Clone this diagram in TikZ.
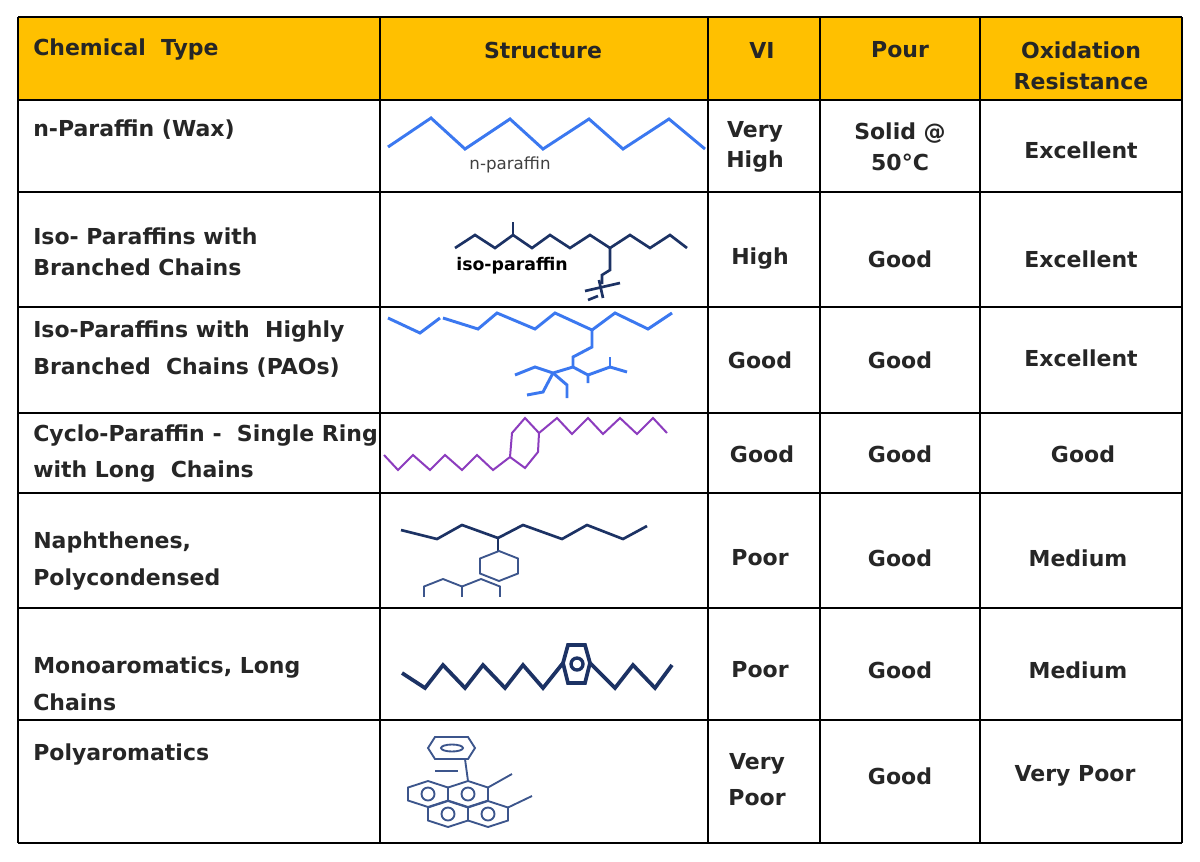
\documentclass[tikz,border=0pt]{standalone}
\usepackage{fontspec}
\setmainfont{DejaVu Sans}
\definecolor{hdr}{RGB}{255,192,0}
\definecolor{cblue}{RGB}{59,120,240}
\definecolor{cnavy}{RGB}{28,50,100}
\definecolor{cpurp}{RGB}{140,60,190}
\definecolor{cslate}{RGB}{60,85,140}
\begin{document}
\begin{tikzpicture}[x=0.75pt,y=-0.75pt,
  txt/.style={font=\fontsize{16.5}{23}\selectfont\bfseries, inner sep=0pt, text=black!85},
  lt/.style={txt, anchor=west, align=left},
  ct/.style={txt, align=center},
  grid/.style={line width=1.5pt, black},
  nblue/.style={line width=2.2pt, cblue, line join=miter},
  navy/.style={line width=2pt, cnavy},
  purp/.style={line width=1.5pt, cpurp},
  slate/.style={line width=1.4pt, cslate}]
\useasboundingbox (0,0) rectangle (1200,861);
\fill[white] (0,0) rectangle (1200,861);
\fill[hdr] (18,17) rectangle (1182,100);
% grid
\foreach \y in {17,100,192,307,413,493,608,720,843} \draw[grid] (18,\y) -- (1182,\y);
\foreach \x in {18,380,708,820,980,1182} \draw[grid] (\x,17) -- (\x,843);
% header
\node[lt] (h1) at (33,50) {Chemical\ \ Type};
\node[ct] (h2) at (543,50) {Structure};
\node[ct] (h3) at (762,50) {VI};
\node[ct] (h4) at (900,50) {Pour};
\node[ct] (h5) at (1081,66) {Oxidation\\Resistance};
% column 1
\node[lt] (a1) at (33,130) {n-Paraffin (Wax)};
\node[lt] (a2) at (33,252) {Iso- Paraffins with\\Branched Chains};
\node[lt] (a3) at (33,349) {Iso-Paraffins with\ \ Highly\\[5pt]Branched\ \ Chains (PAOs)};
\node[lt] (a4) at (33,454) {Cyclo-Paraffin -\ \ Single Ring\\[4pt]with Long\ \ Chains};
\node[lt] (a5) at (33,561) {Naphthenes,\\[5pt]Polycondensed};
\node[lt] (a6) at (33,684) {Monoaromatics, Long\\[5pt]Chains};
\node[lt] (a7) at (33,755) {Polyaromatics};
% VI
\node[ct] (b1) at (755,147) {Very\\High};
\node[ct] (b2) at (760,259) {High};
\node[ct] (b3) at (760,360) {Good};
\node[ct] (b4) at (762,454) {Good};
\node[ct] (b5) at (760,558) {Poor};
\node[ct] (b6) at (760,670) {Poor};
\node[ct] (b7) at (757,780) {Very\\[4pt]Poor};
% Pour
\node[ct] (c1) at (900,147) {Solid @\\50°C};
\foreach \n/\y in {2/259,3/360,4/454,5/558,6/670,7/776} \node[ct] (c\n) at (900,\y) {Good};
% Oxidation
\node[ct] (d1) at (1081,150) {Excellent};
\node[ct] (d2) at (1081,259) {Excellent};
\node[ct] (d3) at (1081,358) {Excellent};
\node[ct] (d4) at (1083,454) {Good};
\node[ct] (d5) at (1078,558) {Medium};
\node[ct] (d6) at (1078,670) {Medium};
\node[ct] (d7) at (1075,776) {Very Poor};
% n-paraffin
\draw[nblue] (388,147)--(431,118)--(465,149)--(510,119)--(543,149)--(589,119)--(623,149)--(669,119)--(705,149);
\node[font=\fontsize{12.5}{14}\selectfont, text=black!75] (np) at (510,165) {n-paraffin};
% iso-paraffin
\draw[navy] (455,248)--(475,235)--(495,248)--(513,235)--(532,248)--(550,235)--(570,248)--(590,235)--(610,248)--(630,235)--(650,248)--(670,235)--(687,248);
\draw[navy] (513,235)--(513,222);
\draw[navy] (610,248)--(610,270)--(602,275)--(602,284);
\draw[navy] (585,291)--(620,283); \draw[navy] (599,280)--(603,298); \draw[navy] (598,296)--(588,300);
\node[font=\fontsize{13}{14}\selectfont\bfseries] (ip) at (512,266) {iso-paraffin};
% PAO
\draw[nblue] (388,318)--(420,333)--(440,318);
\draw[nblue] (443,318)--(478,329)--(497,313)--(535,329)--(555,313)--(592,330)--(615,313)--(648,329)--(672,313);
\draw[nblue] (592,330)--(592,347)--(573,357)--(573,367);
\draw[nblue] (515,375)--(535,367)--(553,373)--(573,367)--(588,375)--(588,383);
\draw[nblue] (588,375)--(610,367)--(627,372); \draw[nblue] (610,367)--(610,357);
\draw[nblue] (553,373)--(543,392)--(527,395); \draw[nblue] (553,373)--(567,385)--(567,398);
% cyclo
\draw[purp] (384,455)--(398,470)--(413,455)--(430,470)--(445,455)--(462,470)--(477,455)--(493,470)--(510,457);
\draw[purp] (510,457)--(512,433)--(525,418)--(539,433)--(538,452)--(525,468)--cycle;
\draw[purp] (539,433)--(557,418)--(572,434)--(588,418)--(603,434)--(620,418)--(637,434)--(653,418)--(667,433);
% naphthenes
\draw[navy] (401,530)--(437,539)--(462,525)--(498,538)--(523,525)--(562,539)--(587,525)--(623,539)--(647,526);
\draw[navy] (498,538)--(498,551);
\begin{scope}
\clip (390,540) rectangle (560,596);
\foreach \cx/\cy in {499/566, 443/594, 481/594} \draw[slate] (\cx,\cy-15)--(\cx+19,\cy-7.5)--(\cx+19,\cy+7.5)--(\cx,\cy+15)--(\cx-19,\cy+7.5)--(\cx-19,\cy-7.5)--cycle;
\end{scope}
% monoaromatic
\draw[navy, line width=2.8pt] (402,673)--(425,688)--(443,665)--(465,688)--(483,665)--(505,688)--(523,665)--(543,688)--(563,663);
\draw[navy, line width=2.8pt] (568,645)--(585,645)--(590,663)--(585,683)--(568,683)--(563,663)--cycle;
\draw[navy, line width=2.5pt] (577,664) circle (6);
\draw[navy, line width=2.8pt] (590,663)--(615,688)--(633,665)--(655,688)--(672,665);
% polyaromatics
\draw[slate] (435,737)--(468,737)--(475,748)--(468,759)--(435,759)--(428,748)--cycle;
\draw[slate] (452,748) ellipse (11 and 3.5);
\draw[slate] (465,759)--(468,781);
\draw[slate] (435,771)--(458,771);
\foreach \cx/\cy in {428/794, 468/794, 448/814, 488/814} {
  \draw[slate] (\cx,\cy-13)--(\cx+20,\cy-6.5)--(\cx+20,\cy+6.5)--(\cx,\cy+13)--(\cx-20,\cy+6.5)--(\cx-20,\cy-6.5)--cycle;
  \draw[slate] (\cx,\cy) circle (6.5);}
\draw[slate] (488,787.5)--(512,774);
\draw[slate] (508,807.5)--(532,796);
\end{tikzpicture}
\end{document}
